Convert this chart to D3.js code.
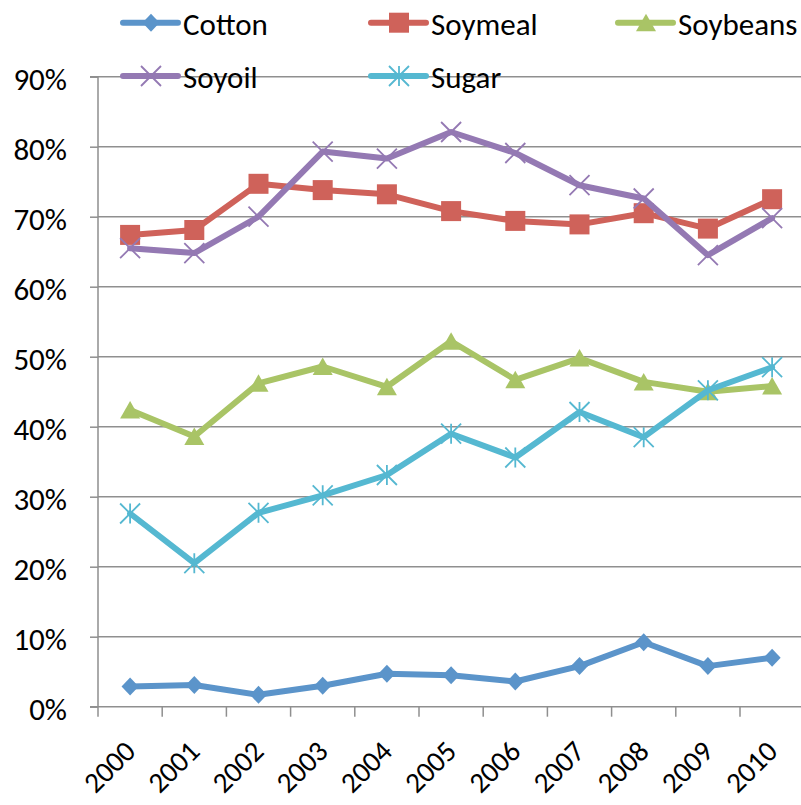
<!DOCTYPE html>
<html>
<head>
<meta charset="utf-8">
<script src="https://cdn.jsdelivr.net/npm/d3@7"></script>
<style>
  html, body { margin: 0; padding: 0; background: #fff; }
  svg { display: block; font-family: Carlito, Calibri, Lato, sans-serif; }
</style>
</head>
<body>
<svg id="chart" width="801" height="805"></svg>
<script>
// Share of production by commodity, 2000–2010 (percent)
const years = ["2000","2001","2002","2003","2004","2005","2006","2007","2008","2009","2010"];
const seriesNames = ["Cotton","Soymeal","Soybeans","Soyoil","Sugar"];
const cotton   = [2.9, 3.1, 1.7, 3.0, 4.7, 4.5, 3.6, 5.8, 9.2, 5.8, 7.0];
const soymeal  = [67.4, 68.1, 74.7, 73.8, 73.2, 70.8, 69.4, 68.9, 70.5, 68.3, 72.5];
const soybeans = [42.4, 38.6, 46.2, 48.6, 45.7, 52.2, 46.7, 49.8, 46.4, 45.0, 45.8];
const soyoil   = [65.5, 64.8, 70.0, 79.3, 78.3, 82.1, 79.1, 74.5, 72.6, 64.5, 69.8];
const sugar    = [27.6, 20.5, 27.7, 30.2, 33.1, 39.0, 35.6, 42.1, 38.5, 45.2, 48.5];
const yTicks   = [0, 10, 20, 30, 40, 50, 60, 70, 80, 90];

const seriesValues = [cotton, soymeal, soybeans, soyoil, sugar];
const colors  = ["#5B94CA", "#CF625A", "#A9C466", "#9479B3", "#55B8D1"];
const markers = ["diamond", "square", "triangle", "x", "asterisk"];

const svg = d3.select("#chart");
const plotLeft = 98, plotRight = 804.2, plotTop = 76.7, plotBottom = 706.7;
const fontSize = 31;
const xFontSize = 29;

const x = d3.scaleBand().domain(years).range([plotLeft, plotRight]).padding(0);
const y = d3.scaleLinear().domain([0, 90]).range([plotBottom, plotTop]);
const gridColor = "#8f8f8f";

// horizontal gridlines
svg.append("g").selectAll("line")
  .data(yTicks.filter(d => d > 0))
  .join("line")
  .attr("x1", plotLeft).attr("x2", plotRight)
  .attr("y1", d => y(d)).attr("y2", d => y(d))
  .attr("stroke", gridColor).attr("stroke-width", 1.5);

// y axis
const yAxis = svg.append("g")
  .attr("transform", `translate(${plotLeft},0)`)
  .call(d3.axisLeft(y).tickValues(yTicks).tickFormat(d => d + "%").tickSize(8).tickPadding(23));
yAxis.selectAll("path, line").attr("stroke", gridColor).attr("stroke-width", 1.5);
yAxis.select(".domain").attr("d", `M-8,${plotTop}H0V${plotBottom}`);
yAxis.selectAll("text")
  .attr("font-size", fontSize).attr("fill", "#000")
  .attr("font-family", "Carlito, Calibri, Lato, sans-serif")
  .attr("dy", "0.4em");

// x axis: baseline with ticks at category boundaries
const xg = svg.append("g");
xg.append("line")
  .attr("x1", plotLeft - 8).attr("x2", plotRight)
  .attr("y1", plotBottom).attr("y2", plotBottom)
  .attr("stroke", gridColor).attr("stroke-width", 1.5);
xg.selectAll("line.tick")
  .data(years)
  .join("line").attr("class", "tick")
  .attr("x1", d => x(d)).attr("x2", d => x(d))
  .attr("y1", plotBottom).attr("y2", plotBottom + 10)
  .attr("stroke", gridColor).attr("stroke-width", 1.5);
xg.selectAll("text")
  .data(years)
  .join("text")
  .attr("transform", d => `translate(${x(d) + x.bandwidth() / 2 + 7},753) rotate(-45)`)
  .attr("text-anchor", "end")
  .attr("font-size", xFontSize)
  .attr("fill", "#000")
  .text(d => d);

// marker shapes
function drawMarker(g, type, color, size) {
  const h = size / 2;
  if (type === "diamond") {
    g.append("path").attr("d", `M0,${-h}L${h * 0.95},0L0,${h}L${-h * 0.95},0Z`).attr("fill", color);
  } else if (type === "square") {
    g.append("rect").attr("x", -h).attr("y", -h).attr("width", size).attr("height", size).attr("fill", color);
  } else if (type === "triangle") {
    g.append("path").attr("d", `M0,${-h}L${h},${h * 0.75}L${-h},${h * 0.75}Z`).attr("fill", color)
      .attr("transform", "translate(0,1)");
  } else if (type === "x") {
    g.append("path").attr("d", `M${-h},${-h}L${h},${h}M${-h},${h}L${h},${-h}`)
      .attr("stroke", color).attr("stroke-width", 1.8).attr("fill", "none");
  } else if (type === "asterisk") {
    g.append("path").attr("d", `M${-h},${-h}L${h},${h}M${-h},${h}L${h},${-h}M0,${-h}L0,${h}`)
      .attr("stroke", color).attr("stroke-width", 1.8).attr("fill", "none");
  }
}
const markerSize = [18, 20, 20, 20, 20];

// series: line then markers, one series at a time
const line = d3.line()
  .x((d, i) => x(years[i]) + x.bandwidth() / 2)
  .y(d => y(d));

seriesValues.forEach((vals, s) => {
  const g = svg.append("g");
  g.append("path")
    .attr("d", line(vals))
    .attr("fill", "none")
    .attr("stroke", colors[s])
    .attr("stroke-width", 6)
    .attr("stroke-linejoin", "round")
    .attr("stroke-linecap", "round");
  vals.forEach((v, i) => {
    const mg = g.append("g")
      .attr("transform", `translate(${x(years[i]) + x.bandwidth() / 2},${y(v)})`);
    drawMarker(mg, markers[s], colors[s], markerSize[s]);
  });
});

// legend
const legendPos = [[123, 22.7], [371, 22.7], [618, 22.7], [123, 76], [371, 76]];
seriesNames.forEach((name, s) => {
  const [lx, ly] = legendPos[s];
  const g = svg.append("g").attr("transform", `translate(${lx},${ly})`);
  g.append("line").attr("x1", 0).attr("x2", 55).attr("y1", 0).attr("y2", 0)
    .attr("stroke", colors[s]).attr("stroke-width", 6).attr("stroke-linecap", "round");
  const mg = g.append("g").attr("transform", "translate(28,0)");
  drawMarker(mg, markers[s], colors[s], markerSize[s]);
  g.append("text")
    .attr("x", 60).attr("y", 0).attr("dy", "0.4em")
    .attr("font-size", fontSize).attr("fill", "#000")
    .text(name);
});
</script>
</body>
</html>
